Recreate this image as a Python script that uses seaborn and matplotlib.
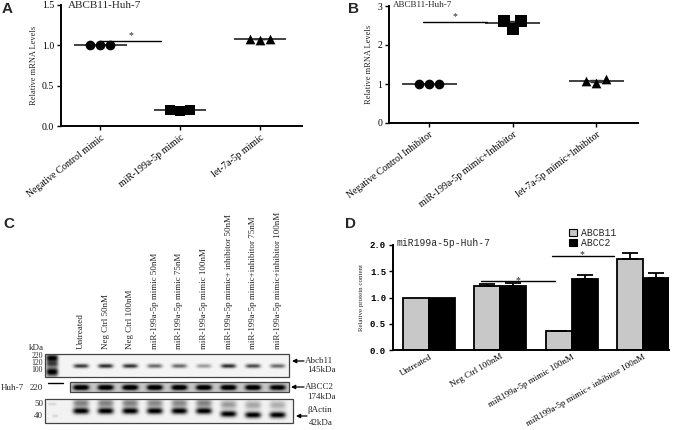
import numpy as np
import pandas as pd
import matplotlib
matplotlib.use("Agg")
import matplotlib.pyplot as plt
import seaborn as sns
from matplotlib.patches import Rectangle, Patch

# ---------------- data ----------------
# Panel A
a_groups = ["Negative Control mimic", "miR-199a-5p mimic", "let-7a-5p mimic"]
a_nc = [1.00, 1.00, 1.00]
a_mir = [0.20, 0.19, 0.20]
a_let = [1.08, 1.07, 1.08]
a_yticks = [0.0, 0.5, 1.0, 1.5]
a_title = "ABCB11-Huh-7"

# Panel B
b_groups = ["Negative Control Inhibitor", "miR-199a-5p mimic+Inhibitor", "let-7a-5p mimic+Inhibitor"]
b_nc = [1.00, 1.00, 1.00]
b_mir = [2.62, 2.42, 2.62]
b_let = [1.13, 1.03, 1.08]
b_yticks = [0, 1, 2, 3]
b_title = "ABCB11-Huh-7"

# Panel C (western blot band intensities, 0..1)
c_lanes = ["Untreated", "Neg Ctrl 50nM", "Neg Ctrl 100nM", "miR-199a-5p mimic 50nM",
           "miR-199a-5p mimic 75nM", "miR-199a-5p mimic 100nM",
           "miR-199a-5p mimic+ inhibitor 50nM", "miR-199a-5p mimic+inhibitor 75nM",
           "miR-199a-5p mimic+inhibitor 100nM"]
c_abcb11 = [0.75, 0.80, 0.78, 0.55, 0.55, 0.35, 0.80, 0.68, 0.55]
c_abcc2 = [0.97, 0.97, 0.98, 0.98, 0.98, 0.97, 0.97, 0.97, 0.90]
c_actin = [1.00, 1.00, 1.00, 1.00, 1.00, 1.00, 1.00, 1.00, 1.00]
c_actin_upper = [0.45, 0.45, 0.45, 0.42, 0.42, 0.45, 0.35, 0.30, 0.27]
c_marker_kda = ["220", "120", "100"]
c_actin_kda = ["50", "40"]

# Panel D
d_groups = ["Untreated", "Neg Ctrl 100nM", "miR199a-5p mimic 100nM",
            "miR199a-5p mimic+ inhibitor 100nM"]
d_genes = ["ABCB11", "ABCC2"]
d_abcb11 = [1.00, 1.21, 0.36, 1.73]
d_abcb11_err = [0.00, 0.04, 0.01, 0.12]
d_abcc2 = [1.00, 1.22, 1.36, 1.38]
d_abcc2_err = [0.00, 0.05, 0.06, 0.08]
d_yticks = [0.0, 0.5, 1.0, 1.5, 2.0]
d_title = "miR199a-5p-Huh-7"

# ---------------- style ----------------
sns.set_theme(style="ticks")
SERIF = ["Liberation Serif", "DejaVu Serif"]
MONO = ["Liberation Mono", "DejaVu Sans Mono"]
SANS = ["Liberation Sans", "DejaVu Sans"]
plt.rcParams["font.family"] = SERIF
plt.rcParams["axes.linewidth"] = 1.4
plt.rcParams["axes.edgecolor"] = "black"

W, H = 680, 430
fig = plt.figure(figsize=(W / 100, H / 100), dpi=100)


def px_axes(x0, y0, x1, y1):
    """axes from pixel box (left, top, right, bottom)"""
    return fig.add_axes([x0 / W, 1 - y1 / H, (x1 - x0) / W, (y1 - y0) / H])


def ftext(x, y, s, **kw):
    fig.text(x / W, 1 - y / H, s, **kw)


def style_axes(ax):
    sns.despine(ax=ax)
    ax.tick_params(axis="both", direction="out", length=3, width=1, color="black",
                   labelcolor="black", pad=2)


def dot_panel(ax, groups, series, markers, sizes, yticks, ylim, xlim, rot, tickfmt):
    for g, vals, m, s in zip(groups, series, markers, sizes):
        sns.swarmplot(x=[g] * len(vals), y=vals, order=groups, marker=m, color="black",
                      size=s, ax=ax)
    for i, vals in enumerate(series):
        mean = np.mean(vals)
        sem = np.std(vals, ddof=1) / np.sqrt(len(vals))
        ax.hlines(mean, i - 0.33, i + 0.33, color="#333333", lw=1.3, zorder=1)
        ax.errorbar(i, mean, yerr=sem, fmt="none", ecolor="#333333", elinewidth=1,
                    capsize=4, zorder=1)
    ax.set_xlim(*xlim)
    ax.set_ylim(*ylim)
    ax.set_yticks(yticks)
    ax.set_yticklabels([tickfmt.format(v) for v in yticks], fontsize=7)
    ax.set_xticks(range(len(groups)))
    ax.set_xticklabels(groups, rotation=rot, ha="right", rotation_mode="anchor", fontsize=7)
    ax.set_xlabel("")
    ax.set_ylabel("Relative mRNA Levels", fontsize=6, labelpad=3)
    style_axes(ax)


# ---------------- Panel A ----------------
axA = px_axes(61, 5, 302, 126)
dot_panel(axA, a_groups, [a_nc, a_mir, a_let], ["o", "s", "^"], [7, 7, 7],
          a_yticks, (0, 1.5), (-0.49, 2.525), 38, "{:.1f}")
axA.plot([0.0, 0.76], [1.05, 1.05], color="black", lw=1)
axA.text(0.38, 1.06, "*", ha="center", va="bottom", fontsize=7)
ftext(68, 5, a_title, fontsize=8, va="center", ha="left")
ftext(2, 9, "A", fontsize=11, fontweight="bold", family=SANS, va="center", ha="left")

# ---------------- Panel B ----------------
axB = px_axes(389, 6, 638, 123)
dot_panel(axB, b_groups, [b_nc, b_mir, b_let], ["o", "s", "^"], [7, 8, 7],
          b_yticks, (0, 3), (-0.48, 2.5), 37, "{:d}")
axB.plot([-0.07, 0.69], [2.59, 2.59], color="black", lw=1)
axB.text(0.31, 2.6, "*", ha="center", va="bottom", fontsize=7)
ftext(393, 5, b_title, fontsize=6.5, va="center", ha="left")
ftext(348, 9, "B", fontsize=11, fontweight="bold", family=SANS, va="center", ha="left")

# ---------------- Panel C (blot) ----------------
axC = px_axes(0, 200, 340, 430)
axC.set_axis_off()
lane_x = 81 + 24.6 * np.arange(len(c_lanes))


def blot_strip(x0, y0, x1, y1, bands, bg=0.05, edge="#444444"):
    res = 3
    xs = np.linspace(x0, x1, int((x1 - x0) * res))
    ys = np.linspace(y0, y1, int((y1 - y0) * res))
    X, Y = np.meshgrid(xs, ys)
    img = np.full_like(X, bg)
    for cx, cy, inten, hw, sy in bands:
        img += inten * np.exp(-((X - cx) / hw) ** 4) * np.exp(-0.5 * ((Y - cy) / sy) ** 2)
    img = np.clip(img, 0, 1)
    axC.imshow(img, cmap="gray_r", vmin=0, vmax=1, extent=(x0, x1, y1, y0),
               aspect="auto", interpolation="bilinear", zorder=1)
    axC.add_patch(Rectangle((x0, y0), x1 - x0, y1 - y0, fill=False, ec=edge, lw=0.9, zorder=2))


# Abcb11 strip
bands = [(52, 358, 1.0, 6, 2.8), (52, 364, 0.6, 6, 2.0), (52, 372, 1.0, 6, 3.2)]
bands += [(x, 366, v, 7.5, 1.5) for x, v in zip(lane_x, c_abcb11)]
blot_strip(45, 354, 289, 377, bands, bg=0.04)
# ABCC2 strip
bands = [(x, 387.5, v, 8, 2.0) for x, v in zip(lane_x, c_abcc2)]
blot_strip(70, 382, 289, 392, bands, bg=0.22)
# beta-actin strip
shift = [0, 0, 0, 0, 0, 0, 3, 4, 4]
bands = [(52, 404, 0.12, 4, 1.0), (55, 416, 0.12, 3, 1.0)]
bands += [(x, 411 + s, v, 8, 2.2) for x, v, s in zip(lane_x, c_actin, shift)]
bands += [(x, 403 + s * 0.5, v, 8, 3.0) for x, v, s in zip(lane_x, c_actin_upper, shift)]
blot_strip(45, 399, 293, 423, bands, bg=0.05)

for x, lab in zip(lane_x, c_lanes):
    axC.text(x, 349, lab, rotation=90, ha="center", va="bottom", fontsize=6.5)

axC.text(36, 348, "kDa", ha="center", va="center", fontsize=6.5)
for y, lab in zip([356.5, 363, 369.5], c_marker_kda):
    axC.text(43, y, lab, ha="right", va="center", fontsize=5.5)
axC.text(1, 388, "Huh-7", ha="left", va="center", fontsize=6.5)
axC.text(43, 388, "220", ha="right", va="center", fontsize=6.5)
axC.plot([48, 63], [383, 383], color="black", lw=1)
for y, lab in zip([404, 416], c_actin_kda):
    axC.text(43, y, lab, ha="right", va="center", fontsize=6.5)

arrow = dict(arrowstyle="-|>", color="black", lw=0.9, mutation_scale=6,
             shrinkA=0, shrinkB=0)
axC.annotate("", xy=(292, 361), xytext=(304, 361), arrowprops=arrow)
axC.text(305, 361, "Abcb11", ha="left", va="center", fontsize=6.5)
axC.text(307, 370, "145kDa", ha="left", va="center", fontsize=6.5)
axC.annotate("", xy=(291, 387), xytext=(304, 387), arrowprops=arrow)
axC.text(305, 387, "ABCC2", ha="left", va="center", fontsize=6.5)
axC.text(307, 397, "174kDa", ha="left", va="center", fontsize=6.5)
axC.annotate("", xy=(296, 416), xytext=(307, 416), arrowprops=arrow)
axC.text(307, 410, "\u03b2Actin", ha="left", va="center", fontsize=6.5)
axC.text(309, 423, "42kDa", ha="left", va="center", fontsize=6.5)
axC.set_xlim(0, 340)
axC.set_ylim(430, 200)
ftext(3, 224, "C", fontsize=11, fontweight="bold", family=SANS, va="center", ha="left")

# ---------------- Panel D ----------------
axD = px_axes(393, 245, 669, 350)
df = pd.DataFrame({
    "group": d_groups * 2,
    "gene": [d_genes[0]] * len(d_groups) + [d_genes[1]] * len(d_groups),
    "value": d_abcb11 + d_abcc2,
})
sns.barplot(data=df, x="group", y="value", hue="gene", order=d_groups, hue_order=d_genes,
            palette=["#c8c8c8", "black"], edgecolor="black", linewidth=1.3,
            errorbar=None, width=0.73, legend=False, ax=axD)
for cont, errs in zip(axD.containers, [d_abcb11_err, d_abcc2_err]):
    for bar, e in zip(cont, errs):
        if e > 0:
            xc = bar.get_x() + bar.get_width() / 2
            axD.errorbar(xc, bar.get_height(), yerr=[[0], [e]], fmt="none",
                         ecolor="black", elinewidth=1.3, capsize=6, capthick=1.3)
axD.set_xlim(-0.507, 3.366)
axD.set_ylim(0, 2.0)
axD.set_yticks(d_yticks)
axD.set_yticklabels([f"{v:.1f}" for v in d_yticks], fontsize=6.5, family=MONO,
                    fontweight="bold")
axD.set_xticks(range(len(d_groups)))
axD.set_xticklabels(d_groups, rotation=30, ha="right", rotation_mode="anchor", fontsize=6.4)
axD.set_xlabel("")
axD.set_ylabel("Relative protein content", fontsize=5, labelpad=4)
style_axes(axD)
axD.tick_params(axis="x", length=0, pad=2)
axD.plot([0.73, 1.77], [1.31, 1.31], color="black", lw=1)
axD.text(1.25, 1.33, "*", ha="center", va="center", fontsize=7)
axD.plot([1.73, 2.59], [1.79, 1.79], color="black", lw=1)
axD.text(2.15, 1.81, "*", ha="center", va="center", fontsize=7)
ftext(397, 243, d_title, fontsize=7, family=MONO, va="center", ha="left")
handles = [Patch(facecolor=c, edgecolor="black", lw=0.8, label=g)
           for c, g in zip(["#c8c8c8", "black"], d_genes)]
fig.legend(handles=handles, loc="upper left", bbox_to_anchor=(569 / W, 1 - 228 / H),
           frameon=False, handlelength=0.8, handleheight=0.8, handletextpad=0.4,
           labelspacing=0.0, borderaxespad=0, borderpad=0,
           prop={"family": MONO, "size": 7})
ftext(345, 224, "D", fontsize=11, fontweight="bold", family=SANS, va="center", ha="left")

fig.savefig("out.png", dpi=100, facecolor="white")
